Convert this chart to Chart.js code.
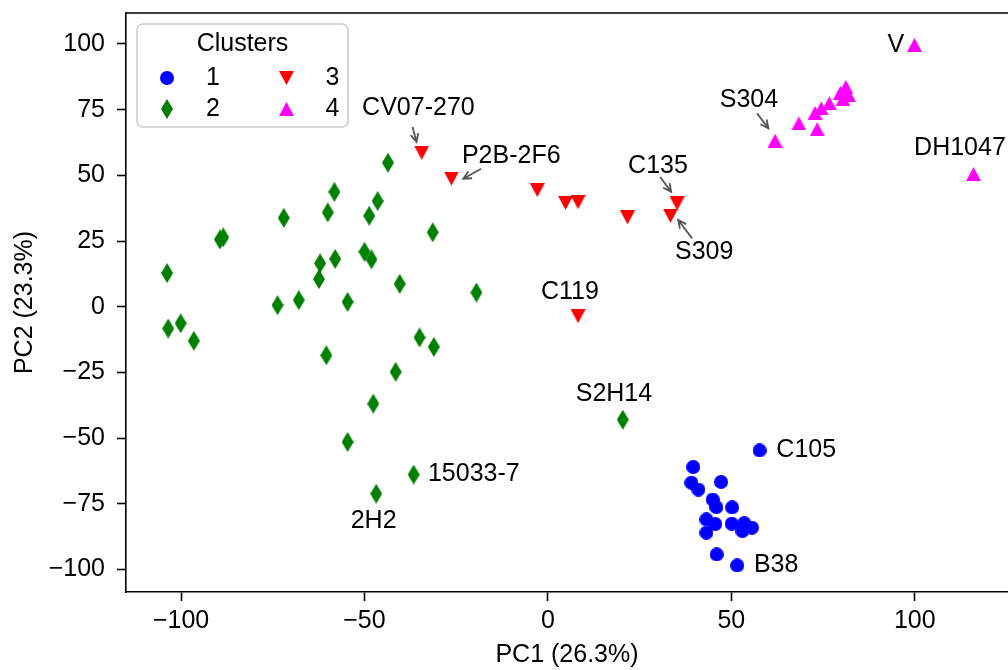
<!DOCTYPE html>
<html>
<head>
<meta charset="utf-8">
<script src="https://cdn.jsdelivr.net/npm/chart.js@4.4.0/dist/chart.umd.min.js"></script>
<style>
  html, body { margin: 0; padding: 0; background: #fff; overflow: hidden; }
  #wrap { width: 1008px; height: 670px; position: relative; }
</style>
</head>
<body>
<div id="wrap"><canvas id="pca"></canvas></div>
<script>
// tick values
const xTicks = [-100, -50, 0, 50, 100];
const yTicks = [-100, -75, -50, -25, 0, 25, 50, 75, 100];

// cluster 1 (blue circles)
const c1x = [57.7, 39.6, 47.2, 39.1, 41.0, 44.9, 45.9, 50.2, 43.2, 45.6, 43.2, 50.1, 53.5, 55.6, 53.0, 46.0, 51.6];
const c1y = [-54.7, -61.0, -66.7, -67.0, -69.6, -73.4, -76.3, -76.4, -81.0, -82.7, -86.0, -82.6, -82.4, -84.1, -85.4, -94.3, -98.5];

// cluster 2 (green diamonds)
const c2x = [-43.6, -58.2, -46.4, -60.0, -48.7, -72.0, -89.4, -88.5, -31.4, -103.8, -62.1, -58.0, -50.0, -48.1, -62.4, -40.4,
  -19.5, -73.7, -67.9, -54.6, -103.5, -100.1, -96.5, -35.0, -31.1, -60.4, -41.5, -47.6, -54.6, -36.6, -46.8, 20.4];
const c2y = [54.8, 43.7, 40.2, 35.9, 34.6, 33.8, 25.6, 26.4, 28.3, 12.8, 16.5, 18.2, 20.9, 18.0, 10.5, 8.7,
  5.4, 0.6, 2.5, 1.8, -8.3, -6.3, -13.0, -11.7, -15.3, -18.5, -24.8, -36.9, -51.5, -63.9, -71.2, -43.0];

// cluster 3 (red down triangles)
const c3x = [-34.4, -26.3, -2.9, 4.8, 8.2, 21.7, 35.2, 33.4, 8.2];
const c3y = [58.6, 48.8, 44.4, 39.5, 39.8, 34.0, 39.3, 34.6, -3.6];

// cluster 4 (magenta up triangles)
const c4x = [99.9, 61.9, 68.4, 73.4, 72.8, 74.5, 76.7, 79.7, 81.2, 81.9, 80.4, 116.0];
const c4y = [99.6, 63.2, 69.8, 67.6, 73.8, 75.5, 77.4, 81.4, 83.7, 80.6, 79.0, 50.5];

// labelled samples: text position, optional arrow (from -> to), in data units
const notes = [
  { text: "CV07-270", x: -35.3, y: 75.6, arrow: [-36.9, 68.4, -35.8, 62.7] },
  { text: "P2B-2F6", x: -10.0, y: 57.3, arrow: [-18.2, 52.5, -23.1, 48.7] },
  { text: "C135", x: 30.0, y: 53.5, arrow: [30.6, 49.4, 33.6, 43.7] },
  { text: "S309", x: 42.6, y: 20.9, arrow: [39.3, 26.0, 35.5, 33.0] },
  { text: "C119", x: 6.0, y: 5.5 },
  { text: "S2H14", x: 18.0, y: -33.3 },
  { text: "C105", x: 70.4, y: -54.7 },
  { text: "B38", x: 62.2, y: -98.5 },
  { text: "15033-7", x: -20.2, y: -63.8 },
  { text: "2H2", x: -47.5, y: -81.7 },
  { text: "S304", x: 54.8, y: 78.7, arrow: [57.0, 73.6, 60.1, 67.9] },
  { text: "V", x: 94.8, y: 99.6 },
  { text: "DH1047", x: 112.3, y: 60.4 }
];

const FONT = "'Liberation Sans', Arial, Helvetica, sans-serif";

function shape(kind, w, h, color) {
  const c = document.createElement("canvas");
  c.width = w; c.height = h;
  const g = c.getContext("2d");
  g.fillStyle = color;
  g.beginPath();
  if (kind === "diamond") {
    g.moveTo(w / 2, 0); g.lineTo(w, h / 2); g.lineTo(w / 2, h); g.lineTo(0, h / 2);
  } else if (kind === "up") {
    g.moveTo(w / 2, 0); g.lineTo(w, h); g.lineTo(0, h);
  } else if (kind === "down") {
    g.moveTo(0, 0); g.lineTo(w, 0); g.lineTo(w / 2, h);
  } else {
    g.arc(w / 2, h / 2, w / 2, 0, Math.PI * 2);
  }
  g.closePath();
  g.fill();
  return c;
}

const mCircle = shape("circle", 14, 14, "#0000ff");
const mDiamond = shape("diamond", 12, 20, "#008000");
const mDown = shape("down", 15, 14, "#ff0000");
const mUp = shape("up", 15, 14, "#ff00ff");

function pts(xs, ys) {
  return xs.map((x, i) => ({ x: x, y: ys[i] }));
}

function fmt(v) {
  return v < 0 ? "\u2212" + Math.abs(v) : String(v);
}

const framePlugin = {
  id: "frame",
  beforeDatasetsDraw(chart) {
    const { ctx, chartArea } = chart;
    ctx.save();
    ctx.strokeStyle = "#000";
    ctx.lineWidth = 1.6;
    ctx.beginPath();
    ctx.moveTo(chartArea.left, chartArea.top);
    ctx.lineTo(chartArea.right + 2, chartArea.top);
    ctx.stroke();
    ctx.restore();
  }
};

const notePlugin = {
  id: "notes",
  afterDatasetsDraw(chart) {
    const { ctx } = chart;
    const xs = chart.scales.x, ys = chart.scales.y;
    ctx.save();
    ctx.font = "25px " + FONT;
    ctx.fillStyle = "#000";
    ctx.textAlign = "center";
    ctx.textBaseline = "middle";
    notes.forEach(n => {
      ctx.fillText(n.text, xs.getPixelForValue(n.x), ys.getPixelForValue(n.y));
      if (n.arrow) {
        const x0 = xs.getPixelForValue(n.arrow[0]), y0 = ys.getPixelForValue(n.arrow[1]);
        const x1 = xs.getPixelForValue(n.arrow[2]), y1 = ys.getPixelForValue(n.arrow[3]);
        const a = Math.atan2(y1 - y0, x1 - x0);
        ctx.strokeStyle = "#555";
        ctx.lineWidth = 1.8;
        ctx.beginPath();
        ctx.moveTo(x0, y0);
        ctx.lineTo(x1, y1);
        ctx.moveTo(x1 - 9 * Math.cos(a - 0.45), y1 - 9 * Math.sin(a - 0.45));
        ctx.lineTo(x1, y1);
        ctx.lineTo(x1 - 9 * Math.cos(a + 0.45), y1 - 9 * Math.sin(a + 0.45));
        ctx.stroke();
      }
    });
    ctx.restore();
  }
};

const legendPlugin = {
  id: "clusterLegend",
  afterDraw(chart) {
    const { ctx, chartArea } = chart;
    const bx = chartArea.left + 11, by = chartArea.top + 11, bw = 211, bh = 103;
    ctx.save();
    ctx.fillStyle = "rgba(255,255,255,0.8)";
    ctx.strokeStyle = "#cccccc";
    ctx.lineWidth = 1.6;
    ctx.beginPath();
    ctx.roundRect(bx, by, bw, bh, 6);
    ctx.fill();
    ctx.stroke();
    ctx.fillStyle = "#000";
    ctx.font = "25px " + FONT;
    ctx.textBaseline = "middle";
    ctx.textAlign = "center";
    ctx.fillText("Clusters", bx + bw / 2, by + 20);
    ctx.textAlign = "left";
    const items = [
      { img: mCircle, label: "1", col: 0, row: 0 },
      { img: mDiamond, label: "2", col: 0, row: 1 },
      { img: mDown, label: "3", col: 1, row: 0 },
      { img: mUp, label: "4", col: 1, row: 1 }
    ];
    items.forEach(it => {
      const mx = bx + 30 + it.col * 119.5;
      const my = by + 54 + it.row * 31;
      ctx.drawImage(it.img, mx - it.img.width / 2, my - it.img.height / 2);
      ctx.fillText(it.label, mx + 39, my);
    });
    ctx.restore();
  }
};

const tickFont = { family: FONT, size: 25 };

new Chart(document.getElementById("pca"), {
  type: "scatter",
  data: {
    datasets: [
      { label: "1", data: pts(c1x, c1y), pointStyle: mCircle, backgroundColor: "#0000ff", pointRadius: 7 },
      { label: "2", data: pts(c2x, c2y), pointStyle: mDiamond, backgroundColor: "#008000", pointRadius: 7 },
      { label: "3", data: pts(c3x, c3y), pointStyle: mDown, backgroundColor: "#ff0000", pointRadius: 7 },
      { label: "4", data: pts(c4x, c4y), pointStyle: mUp, backgroundColor: "#ff00ff", pointRadius: 7 }
    ]
  },
  options: {
    responsive: true,
    maintainAspectRatio: false,
    animation: false,
    layout: { autoPadding: false, padding: { top: 13, right: 0, bottom: 0, left: 0 } },
    plugins: { legend: { display: false }, tooltip: { enabled: false } },
    scales: {
      x: {
        type: "linear",
        min: -115.0,
        max: 125.4,
        afterBuildTicks: s => { s.ticks = xTicks.map(v => ({ value: v })); },
        afterFit: s => { s.height = 78; s.paddingLeft = 0; s.paddingRight = 0; },
        grid: { drawOnChartArea: false, drawTicks: true, tickLength: 9, tickWidth: 1.6, tickColor: "#000" },
        border: { display: true, color: "#000", width: 1.6 },
        ticks: { color: "#000", font: tickFont, padding: 5, maxRotation: 0, autoSkip: false, callback: v => fmt(v) },
        title: { display: true, text: "PC1 (26.3%)", color: "#000", font: tickFont, padding: { top: 0, bottom: 0 } }
      },
      y: {
        type: "linear",
        min: -108.6,
        max: 111.8,
        afterBuildTicks: s => { s.ticks = yTicks.map(v => ({ value: v })); },
        afterFit: s => { s.width = 126; s.paddingTop = 0; s.paddingBottom = 0; },
        grid: { drawOnChartArea: false, drawTicks: true, tickLength: 9, tickWidth: 1.6, tickColor: "#000" },
        border: { display: true, color: "#000", width: 1.6 },
        ticks: { color: "#000", font: tickFont, padding: 12, autoSkip: false, callback: v => fmt(v) },
        title: { display: true, text: "PC2 (23.3%)", color: "#000", font: tickFont, padding: { top: 10, bottom: 0 } }
      }
    }
  },
  plugins: [framePlugin, notePlugin, legendPlugin]
});
</script>
</body>
</html>
